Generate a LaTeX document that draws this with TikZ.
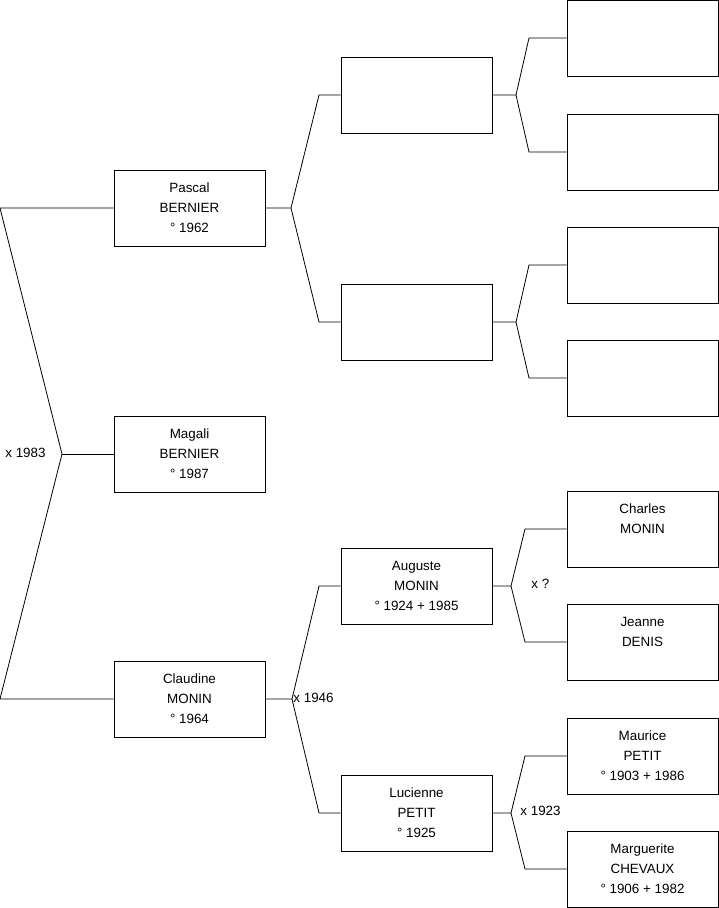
\documentclass[tikz,border=0pt]{standalone}
\usepackage{fontspec}
\setmainfont{Liberation Sans}
\tikzset{
  person/.style={draw, minimum width=151pt, minimum height=76pt, inner sep=0pt,
    align=center, font=\fontsize{13.4}{20}\selectfont},
  wedding/.style={inner sep=1pt, font=\fontsize{13.4}{16}\selectfont}
}
\begin{document}
\begin{tikzpicture}[x=1pt, y=-1pt, line width=0.8pt]
  \useasboundingbox (0,0) rectangle (719,908);
  % Generation 1
  \node [person] (pascal) at (189.5,208) {Pascal\\BERNIER\\° 1962};
  \node [person] (magali) at (189.5,454) {Magali\\BERNIER\\° 1987};
  \node [person] (claudine) at (189.5,699) {Claudine\\MONIN\\° 1964};
  % Generation 2
  \node [person] (pf) at (416.5,95) {};
  \node [person] (pm) at (416.5,322) {};
  \node [person] (auguste) at (416.5,586) {Auguste\\MONIN\\° 1924 + 1985};
  \node [person] (lucienne) at (416.5,813) {Lucienne\\PETIT\\° 1925};
  % Generation 3
  \node [person] (pff) at (642.5,38) {};
  \node [person] (pfm) at (642.5,152) {};
  \node [person] (pmf) at (642.5,265) {};
  \node [person] (pmm) at (642.5,378) {};
  \node [person] (charles) at (642.5,529) {Charles\\MONIN\\\mbox{}};
  \node [person] (jeanne) at (642.5,642) {Jeanne\\DENIS\\\mbox{}};
  \node [person] (maurice) at (642.5,756) {Maurice\\PETIT\\° 1903 + 1986};
  \node [person] (marguerite) at (642.5,869) {Marguerite\\CHEVAUX\\° 1906 + 1982};

  % Parents of Magali
  \coordinate (l1) at (0,208);
  \coordinate (j0) at (62,454);
  \coordinate (l2) at (0,699);
  \draw (pascal.west) -- (l1) -- (j0) -- (l2) -- (claudine.west);
  \draw (j0) -- (magali.west);
  \node [wedding, anchor=east] (w0) at (47,453) {x 1983};

  % Parents of Pascal
  \coordinate (jp) at (291,208);
  \coordinate (jp1) at (319,95);
  \coordinate (jp2) at (319,322);
  \draw (pascal.east) -- (jp) -- (jp1) -- (pf.west);
  \draw (jp) -- (jp2) -- (pm.west);

  % Parents of Pascal's father
  \coordinate (jpf) at (516,95);
  \coordinate (jpf1) at (529,38);
  \coordinate (jpf2) at (529,152);
  \draw (pf.east) -- (jpf) -- (jpf1) -- (pff.west);
  \draw (jpf) -- (jpf2) -- (pfm.west);

  % Parents of Pascal's mother
  \coordinate (jpm) at (516,322);
  \coordinate (jpm1) at (529,265);
  \coordinate (jpm2) at (529,378);
  \draw (pm.east) -- (jpm) -- (jpm1) -- (pmf.west);
  \draw (jpm) -- (jpm2) -- (pmm.west);

  % Parents of Claudine
  \coordinate (jc) at (292,699);
  \coordinate (jc1) at (319,586);
  \coordinate (jc2) at (319,813);
  \draw (claudine.east) -- (jc) -- (jc1) -- (auguste.west);
  \draw (jc) -- (jc2) -- (lucienne.west);
  \node [wedding, anchor=west] (w1) at (292,698) {x 1946};

  % Parents of Auguste
  \coordinate (ja) at (511,586);
  \coordinate (ja1) at (525,529);
  \coordinate (ja2) at (525,642);
  \draw (auguste.east) -- (ja) -- (ja1) -- (charles.west);
  \draw (ja) -- (ja2) -- (jeanne.west);
  \node [wedding, anchor=west] (w2) at (530,584) {x ?};

  % Parents of Lucienne
  \coordinate (jl) at (511,813);
  \coordinate (jl1) at (525,756);
  \coordinate (jl2) at (525,869);
  \draw (lucienne.east) -- (jl) -- (jl1) -- (maurice.west);
  \draw (jl) -- (jl2) -- (marguerite.west);
  \node [wedding, anchor=west] (w3) at (519,811) {x 1923};
\end{tikzpicture}
\end{document}
